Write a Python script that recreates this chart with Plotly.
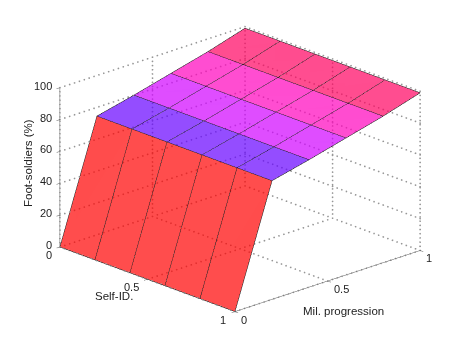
import plotly.graph_objects as go

self_id = [0, 0.2, 0.4, 0.6, 0.8, 1]
mil_prog = [0, 0.2, 0.4, 0.6, 0.8, 1]
foot_soldiers = [0, 74.5, 80, 86, 92, 99]
band_colors = ["#ff0000", "#6500ff", "#d000ff", "#ff00bc", "#ff0060"]
self_ticks = [0, 0.5, 1]
mil_ticks = [0, 0.5, 1]
z_ticks = [0, 20, 40, 60, 80, 100]

TICK = 0.018
DOTS = 38
GRID = "rgb(150,150,150)"
AXIS = "rgb(90,90,90)"
FONT = dict(family="Liberation Sans, Arial, sans-serif", size=11, color="#222222")
TITLE_FONT = dict(family="Liberation Sans, Arial, sans-serif", size=11.5, color="#222222")


def seg3d(points, color, width=1):
    xs, ys, zs = [], [], []
    for p, q in points:
        xs += [p[0], q[0], None]
        ys += [p[1], q[1], None]
        zs += [p[2], q[2], None]
    return go.Scatter3d(x=xs, y=ys, z=zs, mode="lines", line=dict(color=color, width=width),
                        hoverinfo="skip", showlegend=False)


def dots3d(points, color):
    xs, ys, zs = [], [], []
    for p, q in points:
        for k in range(DOTS + 1):
            t = k / DOTS
            xs.append(p[0] + (q[0] - p[0]) * t)
            ys.append(p[1] + (q[1] - p[1]) * t)
            zs.append(p[2] + (q[2] - p[2]) * t)
    return go.Scatter3d(x=xs, y=ys, z=zs, mode="markers",
                        marker=dict(color=color, size=1, line=dict(width=0)),
                        hoverinfo="skip", showlegend=False)


x0, x1 = self_ticks[0], self_ticks[-1]
y0, y1 = mil_ticks[0], mil_ticks[-1]
z0, z1 = z_ticks[0], z_ticks[-1]

grid = []
for z in z_ticks:
    grid.append(((x0, y0, z), (x0, y1, z)))
    grid.append(((x0, y1, z), (x1, y1, z)))
for y in mil_ticks:
    grid.append(((x0, y, z0), (x0, y, z1)))
    grid.append(((x0, y, z0), (x1, y, z0)))
for x in self_ticks:
    grid.append(((x, y1, z0), (x, y1, z1)))
    grid.append(((x, y0, z0), (x, y1, z0)))

axes = [
    ((x0, y0, z0), (x0, y0, z1)),
    ((x0, y0, z0), (x1, y0, z0)),
    ((x1, y0, z0), (x1, y1, z0)),
]
for z in z_ticks:
    axes.append(((x0, y0, z), (x0, y0 - TICK, z)))
for x in self_ticks:
    axes.append(((x, y0, z0), (x, y0 - TICK, z0)))
for y in mil_ticks:
    axes.append(((x1, y, z0), (x1 + TICK, y, z0)))

# surface as flat-coloured patches
vx, vy, vz, ti, tj, tk, fc = [], [], [], [], [], [], []
n = len(self_id)
for j, y in enumerate(mil_prog):
    for i, x in enumerate(self_id):
        vx.append(x)
        vy.append(y)
        vz.append(foot_soldiers[j])
for j in range(len(mil_prog) - 1):
    for i in range(n - 1):
        a = j * n + i
        b = a + 1
        c = a + n
        d = c + 1
        ti += [a, a]
        tj += [b, d]
        tk += [d, c]
        fc += [band_colors[j], band_colors[j]]

surface = go.Mesh3d(
    x=vx, y=vy, z=vz, i=ti, j=tj, k=tk, facecolor=fc, opacity=0.7, flatshading=True,
    lighting=dict(ambient=1, diffuse=0, specular=0, roughness=1, fresnel=0),
    hoverinfo="skip", showscale=False,
)

wire = []
for j in range(len(mil_prog)):
    wire.append(((x0, mil_prog[j], foot_soldiers[j]), (x1, mil_prog[j], foot_soldiers[j])))
for x in self_id:
    for j in range(len(mil_prog) - 1):
        wire.append(((x, mil_prog[j], foot_soldiers[j]), (x, mil_prog[j + 1], foot_soldiers[j + 1])))

fig = go.Figure([
    dots3d(grid, GRID),
    seg3d(axes, AXIS, 1),
    surface,
    seg3d(wire, "rgb(0,0,0)", 1),
])

annots = []
for z in z_ticks:
    annots.append(dict(x=x0, y=y0, z=z, text=str(z), showarrow=False, xanchor="right", xshift=-6, yshift=2, font=FONT))
self_shift = {0: (-11, -8), 0.5: (-16, -8), 1: (-12, -8)}
mil_shift = {0: (9, -8), 0.5: (14, -8), 1: (9, -8)}
for x in self_ticks:
    annots.append(dict(x=x, y=y0, z=z0, text=str(x), showarrow=False, xshift=self_shift[x][0], yshift=self_shift[x][1], font=FONT))
for y in mil_ticks:
    annots.append(dict(x=x1, y=y, z=z0, text=str(y), showarrow=False, xshift=mil_shift[y][0], yshift=mil_shift[y][1], font=FONT))

hidden = dict(
    showgrid=False, zeroline=False, showline=False, showticklabels=False, ticks="",
    showbackground=False, showspikes=False, title=dict(text=""),
)
PAD = 0.03
L = 1.3
SCALE = 1.49
CX, CY, CZ = 0.014, 0.0148, -0.1055
PAPER = dict(xref="paper", yref="paper", xanchor="center", yanchor="middle", showarrow=False, font=TITLE_FONT)
fig.update_layout(
    width=463, height=349, autosize=False,
    margin=dict(l=0, r=0, t=0, b=0),
    paper_bgcolor="white",
    showlegend=False,
    scene=dict(
        domain=dict(x=[0.018, 1.0], y=[0.0, 0.98]),
        xaxis=dict(range=[-PAD, 1 + PAD], **hidden),
        yaxis=dict(range=[-PAD, 1 + PAD], **hidden),
        zaxis=dict(range=[0, 100], **hidden),
        aspectmode="manual",
        aspectratio=dict(x=(1 + 2 * PAD) * SCALE, y=(1 + 2 * PAD) * SCALE, z=0.667 * SCALE),
        camera=dict(
            projection=dict(type="orthographic"),
            up=dict(x=0, y=0, z=1),
            center=dict(x=CX, y=CY, z=CZ),
            eye=dict(x=0.681 * L + CX, y=-0.644 * L + CY, z=0.349 * L + CZ),
        ),
        annotations=annots,
    ),
    annotations=[
        dict(text="Foot-soldiers (%)", x=20 / 463, y=1 - 155 / 349, textangle=-90, **PAPER),
        dict(text="Self-ID.", x=106 / 463, y=1 - 288 / 349, **PAPER),
        dict(text="Mil. progression", x=335 / 463, y=1 - 303 / 349, **PAPER),
    ],
)
fig.write_html("out.html")
